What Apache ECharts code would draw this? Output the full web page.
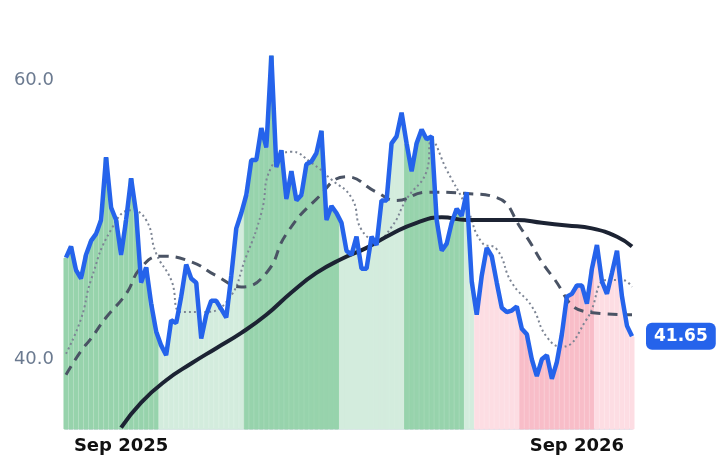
<!DOCTYPE html>
<html><head><meta charset="utf-8">
<script src="https://cdn.jsdelivr.net/npm/echarts@6/dist/echarts.min.js"></script>
<style>html,body{margin:0;padding:0;background:#fff}#c{width:718px;height:464px}</style>
</head><body><div id="c"></div>
<script>
const startDate = '2025-07-21';
const stepDays = 4;
const price = [47.3,48.1,46.4,45.8,47.5,48.5,49.0,50.0,54.5,50.9,50.0,47.5,50.0,53.0,50.5,45.5,46.6,44.0,42.0,41.0,
40.3,42.8,42.6,44.5,46.8,45.8,45.5,41.5,43.2,44.2,44.2,43.6,43.0,46.0,49.4,50.5,51.8,54.3,54.3,56.6,
55.2,61.8,53.8,55.0,51.5,53.5,51.4,51.8,54.0,54.2,54.8,56.4,50.0,51.0,50.5,49.8,47.8,47.5,48.8,46.5,
46.5,48.8,48.2,51.4,51.4,55.5,56.0,57.7,55.5,53.5,55.5,56.5,55.8,56.0,50.0,47.8,48.3,49.8,50.8,50.3,
52.0,45.6,43.2,46.0,48.0,47.4,45.5,43.7,43.4,43.5,43.8,42.2,41.8,40.0,38.8,40.0,40.3,38.6,39.8,41.8,
44.5,44.7,45.3,45.3,44.0,46.5,48.2,45.6,44.7,46.2,47.8,44.5,42.4,41.65];
// sparse readings [index, value]
const maLong = [[11,35.1],[15,36.9],[20,38.5],[25,39.7],[30,40.8],[35,41.9],[40,43.2],[45,44.8],[50,46.2],[55,47.2],[60,48.0],[65,49.0],[70,49.8],[75,50.2],[80,50.0],[85,50.0],[90,50.0],[95,49.8],[100,49.6],[105,49.4],[110,48.8],[113,48.1]];
const maMid = [[0,38.9],[3,40.6],[5,41.5],[8,43.0],[12,44.7],[15,46.6],[19,47.4],[25,47.0],[30,46.0],[35,45.2],[40,46.2],[44,49.0],[50,51.5],[56,53.1],[62,52.0],[66,51.4],[72,52.0],[80,51.9],[86,51.6],[91,49.3],[97,46.0],[104,43.4],[113,43.2]];
const maShort = [[0,40.4],[3,42.9],[5,45.7],[9,49.3],[13,50.7],[16,50.0],[18,47.6],[21,45.7],[23,43.4],[27,43.4],[32,44.1],[36,47.4],[39,50.5],[41,53.8],[45,54.9],[49,54.1],[53,52.9],[57,51.6],[59,49.3],[62,48.6],[65,49.5],[68,51.5],[72,53.5],[73,55.7],[76,53.6],[80,50.9],[83,48.4],[86,47.9],[89,45.5],[93,43.8],[96,41.6],[99,40.9],[104,42.9],[108,45.7],[111,45.7],[113,45.2]];
// background segments: [fromIndex, toIndex, kind]
const segments = [[0,18,'upStrong'],[19,35,'up'],[36,54,'upStrong'],[55,67,'up'],[68,79,'upStrong'],[80,81,'up'],[82,90,'down'],[91,105,'downStrong'],[106,113,'down']];
const xLabels = {'2025-09':'Sep 2025','2026-09':'Sep 2026'};

const cats = price.map((_, i) => {
  const d = new Date(startDate + 'T00:00:00Z'); d.setUTCDate(d.getUTCDate() + i * stepDays);
  return d.toISOString().slice(0, 10);
});
const labelIdx = {};
cats.forEach((c, i) => { const k = c.slice(0, 7); if (xLabels[k] && !(k in labelIdx)) labelIdx[k] = i; });
const styles = {upStrong: '#97d3ac', up: '#d3ecdd', down: '#fddde3', downStrong: '#f8bdc8'};
const kindAt = i => segments.find(s => i >= s[0] && i <= s[1])[2];
const sparse = arr => { const a = price.map(() => null); arr.forEach(([i, v]) => a[i] = v); return a; };

const chart = echarts.init(document.getElementById('c'));
chart.setOption({
  animation: false,
  grid: {left: 66, right: 86, top: 11, bottom: 35},
  xAxis: {type: 'category', data: cats, boundaryGap: false,
    axisLine: {lineStyle: {color: '#dfe4ec', width: 2}}, axisTick: {show: false},
    axisLabel: {interval: (i) => Object.values(labelIdx).includes(i), formatter: (v) => xLabels[v.slice(0,7)] || '',
      color: '#111', fontWeight: 'bold', fontSize: 18, fontFamily: 'DejaVu Sans', margin: 8}},
  yAxis: {type: 'value', min: 35, max: 65, interval: 5, splitLine: {show: false},
    axisLine: {show: false}, axisTick: {show: false},
    axisLabel: {formatter: v => (v === 40 || v === 60) ? v.toFixed(1) : '', color: '#6b7a90', fontSize: 18, fontFamily: 'DejaVu Sans', margin: 12}},
  series: [
    {type: 'bar', barCategoryGap: '0%', barGap: '0%', silent: true,
      data: price.map((v, i) => ({value: v, itemStyle: {color: styles[kindAt(i)], borderColor: styles[kindAt(i)], borderWidth: 1}})), z: 1},
    {type: 'line', data: sparse(maShort), connectNulls: true, smooth: true, symbol: 'none',
      lineStyle: {color: '#7d8594', width: 2, type: [2, 3]}, z: 3},
    {type: 'line', data: sparse(maMid), connectNulls: true, smooth: true, symbol: 'none',
      lineStyle: {color: '#4a5364', width: 3, type: [10, 7]}, z: 3},
    {type: 'line', data: sparse(maLong), connectNulls: true, smooth: true, symbol: 'none',
      lineStyle: {color: '#1c2333', width: 4}, z: 4},
    {type: 'line', data: price.map((v, i) => i === price.length - 1 ? {value: v, symbol: 'circle', symbolSize: 13,
        itemStyle: {color: '#2563eb', borderColor: '#fff', borderWidth: 3}} : v),
      symbol: 'none', showSymbol: true, lineStyle: {color: '#2563eb', width: 4.5}, z: 5,
      endLabel: {show: true, formatter: () => price[price.length-1].toFixed(2),
        backgroundColor: '#2563eb', color: '#fff', fontWeight: 'bold', fontSize: 17, fontFamily: 'DejaVu Sans',
        padding: [5, 8], borderRadius: 6, distance: 14}}
  ]
});
</script></body></html>
